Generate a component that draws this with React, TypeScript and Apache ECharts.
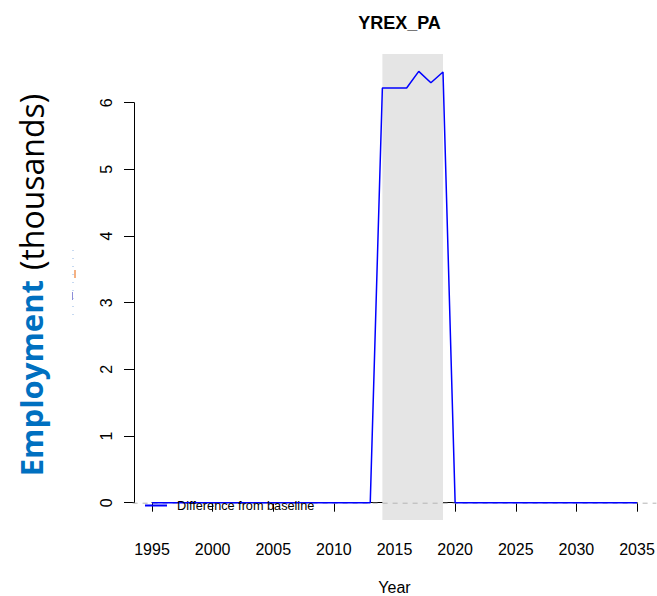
import React, { useEffect, useRef } from "react";
import * as echarts from "echarts";

const years: number[] = [];
for (let y = 1995; y <= 2035; y++) years.push(y);
const diffValues: Record<number, number> = {
  2014: 6.22,
  2015: 6.22,
  2016: 6.22,
  2017: 6.47,
  2018: 6.3,
  2019: 6.46,
};
const seriesValues = years.map((y) => (diffValues[y] !== undefined ? diffValues[y] : 0));
const shadeYears = [2014, 2019];
const xTicks = [1995, 2035];
const yTicks = [0, 6];
const usrX = [1993.4, 2036.6];
const usrY = [-0.26, 6.73];

const FONT = "'Liberation Sans', Arial, sans-serif";

export default function App() {
  const ref = useRef<HTMLDivElement>(null);
  useEffect(() => {
    if (!ref.current) return;
    const chart = echarts.init(ref.current, null, { renderer: "svg" });
    chart.setOption({
      animation: false,
      backgroundColor: "#ffffff",
      title: {
        text: "YREX_PA",
        left: 394.5,
        top: 9,
        textAlign: "center",
        textStyle: { fontFamily: FONT, fontSize: 18, fontWeight: "bold", color: "#000" },
      },
      grid: {
        left: 152,
        right: 20,
        top: 102.7,
        bottom: 93.3,
        containLabel: false,
        outerBoundsMode: "none",
      },
      xAxis: {
        type: "value",
        min: xTicks[0],
        max: xTicks[1],
        interval: 5,
        offset: 17,
        name: "Year",
        nameLocation: "middle",
        nameGap: 60,
        nameTextStyle: { fontFamily: FONT, fontSize: 16, color: "#000" },
        axisLine: { show: true, lineStyle: { color: "#000", width: 1 } },
        axisTick: { show: true, length: 9, lineStyle: { color: "#000" } },
        axisLabel: {
          fontFamily: FONT,
          fontSize: 16,
          color: "#000",
          margin: 22,
          formatter: (v: number) => String(v),
        },
        splitLine: { show: false },
      },
      yAxis: {
        type: "value",
        min: yTicks[0],
        max: yTicks[1],
        interval: 1,
        offset: 18,
        axisLine: { show: true, lineStyle: { color: "#000", width: 1 } },
        axisTick: { show: true, length: 10, lineStyle: { color: "#000" } },
        axisLabel: { fontFamily: FONT, fontSize: 16, color: "#000", margin: 20, rotate: 90 },
        splitLine: { show: false },
      },
      legend: {
        left: 145,
        top: 499,
        padding: 0,
        itemWidth: 22,
        itemHeight: 2,
        icon: "rect",
        data: [{ name: "Difference from baseline", itemStyle: { color: "#0000FF" } }],
        textStyle: { fontFamily: FONT, fontSize: 12.7, color: "#000", padding: [0, 0, 0, 5] },
      },
      series: [
        {
          type: "custom",
          name: "shade",
          z: 1,
          silent: true,
          clip: false,
          encode: { x: [0, 1] },
          data: [[shadeYears[0], shadeYears[1]]],
          renderItem: (params: any, api: any) => {
            const x0 = api.coord([api.value(0), 0])[0];
            const x1 = api.coord([api.value(1), 0])[0];
            const yT = api.coord([2000, usrY[1]])[1];
            const yB = api.coord([2000, usrY[0]])[1];
            return {
              type: "rect",
              shape: { x: x0, y: yT, width: x1 - x0, height: yB - yT },
              style: { fill: "#E5E5E5" },
            };
          },
        },
        {
          type: "custom",
          name: "baseline",
          z: 2,
          silent: true,
          clip: false,
          encode: { x: [0, 1] },
          data: [[usrX[0], usrX[1]]],
          renderItem: (params: any, api: any) => {
            const p0 = api.coord([api.value(0), 0]);
            const p1 = api.coord([api.value(1), 0]);
            return {
              type: "line",
              shape: { x1: p0[0], y1: p0[1] + 0.5, x2: p1[0], y2: p1[1] + 0.5 },
              style: { stroke: "#B4B4B4", lineWidth: 1, lineDash: [5, 5] },
            };
          },
        },
        {
          type: "line",
          name: "Difference from baseline",
          z: 3,
          clip: false,
          showSymbol: false,
          symbol: "none",
          data: years.map((y, i) => [y, seriesValues[i]]),
          lineStyle: { color: "#0000FF", width: 1.5 },
          itemStyle: { color: "#0000FF" },
        },
      ],
      graphic: [
        {
          type: "text",
          x: 31,
          y: 285,
          rotation: Math.PI / 2,
          style: {
            text: "{a|Employment}   {b|(thousands)}",
            align: "center",
            verticalAlign: "middle",
            rich: {
              a: { fontFamily: "'Open Sans', sans-serif", fontSize: 31, fontWeight: "bold", fill: "#0070C0" },
              b: { fontFamily: "'Open Sans', sans-serif", fontSize: 32, fill: "#000" },
            },
          },
        },
        {
          type: "line",
          shape: { x1: 73, y1: 250, x2: 73, y2: 320 },
          style: { stroke: "#8FB4E3", lineWidth: 1, lineDash: [1, 7] },
        },
        {
          type: "line",
          shape: { x1: 72.5, y1: 292, x2: 72.5, y2: 300 },
          style: { stroke: "#8E8ED8", lineWidth: 1 },
        },
        {
          type: "rect",
          shape: { x: 74, y: 270, width: 2, height: 8 },
          style: { fill: "#F4B183" },
        },
      ],
    });
    return () => chart.dispose();
  }, []);
  return (
    <div
      ref={ref}
      style={{ position: "fixed", left: 0, top: 0, width: 657, height: 596 }}
    />
  );
}
